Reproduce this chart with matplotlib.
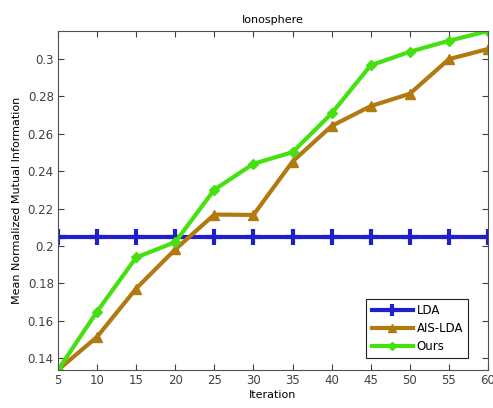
import matplotlib.pyplot as plt

iterations = [5, 10, 15, 20, 25, 30, 35, 40, 45, 50, 55, 60]
lda = [0.2048] * 12
ais_lda = [0.1338, 0.1515, 0.1773, 0.1982, 0.2168, 0.2166, 0.2451,
           0.2641, 0.2747, 0.2813, 0.2998, 0.3052]
ours = [0.1338, 0.1650, 0.1939, 0.2021, 0.2301, 0.2439, 0.2501,
        0.2708, 0.2965, 0.3037, 0.3096, 0.3148]

fig = plt.figure(figsize=(4.93, 4.08), dpi=100)
ax = fig.add_axes([0.1176, 0.0931, 0.8723, 0.8309])

ax.plot(iterations, lda, color="#2020c8", lw=3, marker="+", ms=11, mew=3,
        label="LDA")
ax.plot(iterations, ais_lda, color="#b07a10", lw=3, marker="^", ms=7,
        label="AIS-LDA")
ax.plot(iterations, ours, color="#44e010", lw=3, marker="D", ms=5,
        label="Ours")

ax.set_xlim(5, 60)
ax.set_ylim(0.1338, 0.3148)
ax.set_xticks(iterations)
ax.set_yticks([0.14, 0.16, 0.18, 0.2, 0.22, 0.24, 0.26, 0.28, 0.3])
ax.set_yticklabels(["0.14", "0.16", "0.18", "0.2", "0.22", "0.24", "0.26",
                    "0.28", "0.3"])
ax.tick_params(direction="in", top=True, right=True, labelsize=8.5,
               labelcolor="#404040", color="#404040", length=4, pad=3)
for s in ax.spines.values():
    s.set_color("#505050")

ax.set_title("Ionosphere", fontsize=8, pad=6)
ax.set_xlabel("Iteration", fontsize=8, labelpad=2)
ax.set_ylabel("Mean Normalized Mutual Information", fontsize=8, labelpad=4)

leg = ax.legend(loc="lower right", bbox_to_anchor=(0.968, 0.018),
                fontsize=8.5, fancybox=False, framealpha=1,
                edgecolor="#202020", handlelength=3.5, markerscale=0.8,
                borderpad=0.45, labelspacing=0.4, handletextpad=0.3)
leg.get_frame().set_linewidth(0.8)

plt.savefig("out.png", dpi=100, facecolor="white")
plt.close(fig)
